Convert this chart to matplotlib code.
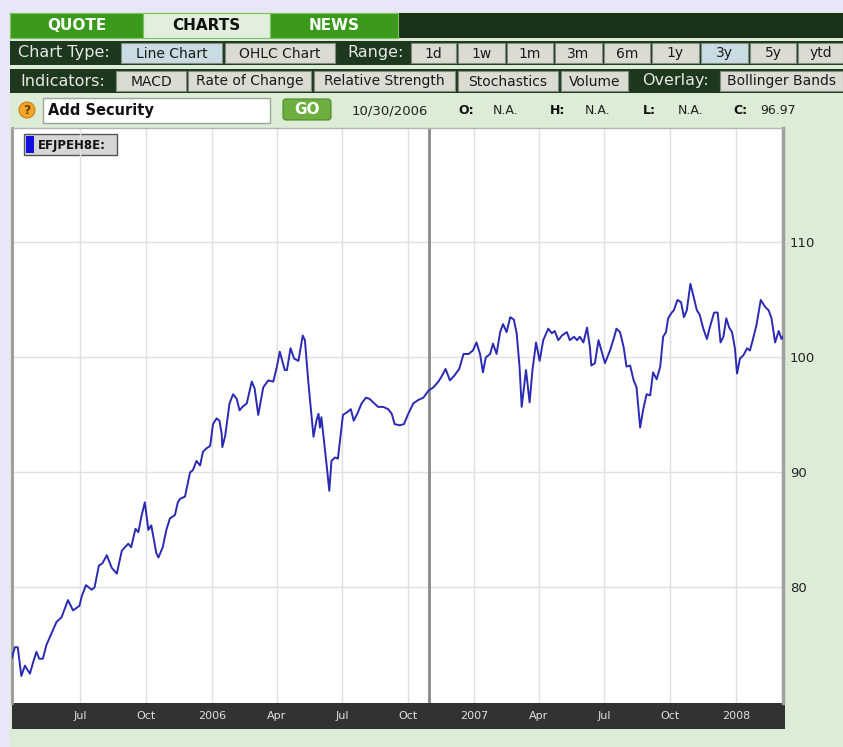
import numpy as np
import matplotlib.pyplot as plt
from matplotlib.patches import Rectangle, Circle, FancyBboxPatch

# price series, x given as days counted from 2005-07-01
days = [-95, -91, -87, -82, -77, -70, -66, -61, -57, -52, -47, -38, -33, -26, -17, -10, -1, 2, 8, 16,
        20, 26, 31, 37, 44, 51, 58, 67, 71, 77, 81, 85, 90, 95, 99, 106, 109, 115, 120, 125, 132, 136,
        139, 146, 153, 157, 162, 167, 171, 176, 181, 185, 190, 194, 197, 198, 202, 208, 213, 218, 222, 226,
        232, 239, 243, 248, 255, 262, 269, 274, 278, 285, 288, 293, 298, 304, 310, 313, 318, 322, 325, 329,
        332, 334, 336, 343, 347, 350, 355, 359,
        366, 371, 377, 381, 386, 392, 398, 403, 408, 415, 422, 429, 434, 438, 445, 451, 457, 464, 471, 478,
        485, 492, 499, 503, 509, 515, 521, 528, 534, 541, 547, 552, 557, 561, 565, 571, 575, 580, 585,
        589, 594, 599, 604, 608, 612, 615, 621, 626, 630, 635, 640, 645, 652, 657, 661, 666, 671, 678, 682,
        688, 692, 696, 701, 706, 710, 712, 717, 722, 726, 731, 738, 744, 747, 752, 757, 761, 766, 771, 775,
        780, 784, 789, 794, 798, 803, 808,
        812, 816, 819, 824, 827, 832, 837, 841, 845, 850, 854, 859, 863, 868, 873, 877, 883, 888, 892, 896,
        900, 904, 908, 912, 915, 919, 924, 929, 933, 938, 942, 948, 954, 959, 963, 968, 973, 977, 979]
price = [73.9, 74.8, 74.8, 72.3, 73.2, 72.5, 73.4, 74.4, 73.8, 73.8, 75.0, 76.3, 77.0, 77.4, 78.9, 78.0,
         78.4, 79.2, 80.2, 79.8, 80.0, 81.9, 82.1, 82.8, 81.7, 81.2, 83.2, 83.8, 83.5, 85.1, 84.8, 86.1,
         87.4, 85.0, 85.4, 83.0, 82.6, 83.5, 85.0, 86.0, 86.3, 87.4,
         87.7, 87.9, 90.0, 90.2, 91.0, 90.6, 91.8, 92.1, 92.3, 94.2, 94.7, 94.5, 93.4, 92.2, 93.2, 96.0,
         96.8, 96.4, 95.4, 95.7, 96.0, 97.9, 97.3, 95.0, 97.4, 98.0, 97.9, 99.2, 100.5, 98.9, 98.9, 100.8,
         99.9, 99.7, 101.9, 101.5, 97.7, 95.1, 93.1, 94.5, 95.1, 93.9, 94.8, 90.8, 88.4, 91.0, 91.3, 91.2,
         95.0, 95.2, 95.5, 94.5, 95.1, 96.0, 96.5, 96.4, 96.1, 95.7, 95.7, 95.5, 95.1, 94.2, 94.1, 94.2,
         95.1, 96.0, 96.3, 96.5, 97.1, 97.4, 97.9, 98.3, 99.0, 98.0, 98.4, 99.0, 100.3, 100.3, 100.6, 101.3,
         100.3, 98.7, 100.0, 100.3, 101.2, 100.3, 102.2,
         102.9, 102.2, 103.5, 103.3, 102.1, 99.2, 95.7, 98.9, 96.1, 98.9, 101.3, 99.7, 101.5, 102.5, 102.1,
         102.3, 101.5, 101.9, 102.2, 101.5, 101.8, 101.5, 101.8, 101.3, 102.6, 100.9, 99.3, 99.5, 101.5,
         100.6, 99.5, 100.6, 101.8, 102.5, 102.2, 100.9, 99.2, 99.3, 98.0, 97.4, 93.9, 95.4, 96.8, 96.7,
         98.7, 98.1, 99.2,
         101.8, 102.2, 103.4, 103.9, 104.1, 105.0, 104.8, 103.5, 104.1, 106.4, 105.4, 104.1, 103.7, 102.5,
         101.6, 102.6, 103.9, 103.9, 101.3, 101.8, 103.4, 102.6, 102.2, 100.8, 98.6, 99.9, 100.2, 100.8,
         100.6, 101.8, 102.8, 105.0, 104.4, 104.1, 103.4, 101.3, 102.3, 101.6, 101.8]

start_date = '2005-07-01'
first_day, last_day = -95, 979
tick_dates = ['2005-07-01', '2005-10-01', '2006-01-01', '2006-04-01', '2006-07-01', '2006-10-01',
              '2007-01-01', '2007-04-01', '2007-07-01', '2007-10-01', '2008-01-01']
tick_labels = ['Jul', 'Oct', '2006', 'Apr', 'Jul', 'Oct', '2007', 'Apr', 'Jul', 'Oct', '2008']
y_ticks = [80, 90, 100, 110]
cursor_date = '2006-10-30'
security = 'EFJPEH8E:'

tabs = ['QUOTE', 'CHARTS', 'NEWS']
chart_types = ['Line Chart', 'OHLC Chart']
ranges = ['1d', '1w', '1m', '3m', '6m', '1y', '3y', '5y', 'ytd']
indicators = ['MACD', 'Rate of Change', 'Relative Strength', 'Stochastics', 'Volume']
overlays = ['Bollinger Bands']
quote_keys = ['O:', 'H:', 'L:', 'C:']
quote_vals = ['N.A.', 'N.A.', 'N.A.', '96.97']

# layout in screen pixels
W, H = 843, 747
tab_x = [(10, 143), (143, 270), (270, 398)]
type_x = [(121, 222), (225, 335)]
range_x = [(411, 456), (458, 505), (507, 553), (555, 602), (604, 650), (652, 699), (701, 748),
           (750, 796), (798, 843)]
ind_x = [(116, 186), (188, 311), (314, 455), (458, 558), (561, 628)]
over_x = [(720, 843)]
quote_key_x = [458, 550, 643, 733]
quote_val_x = [493, 585, 678, 760]

DARK = '#1d381c'
BTN = '#dcdbd3'
SEL = '#c9dce4'

fig = plt.figure(figsize=(W / 100, H / 100), dpi=100)
fig.patch.set_facecolor('#e7e7f9')
bg = fig.add_axes([0, 0, 1, 1])
bg.set_xlim(0, W)
bg.set_ylim(H, 0)
bg.axis('off')


def box(x0, y0, x1, y1, fc, ec='none', lw=0, target=None):
    p = Rectangle((x0, y0), x1 - x0, y1 - y0, fc=fc, ec=ec, lw=lw,
                  transform=bg.transData, clip_on=False)
    (target or bg).add_artist(p)


def button(x0, x1, y0, y1, label, fc):
    box(x0, y0, x1, y1, fc, ec='#7f8f7f', lw=0.8)
    bg.text((x0 + x1) / 2, (y0 + y1) / 2 + 0.5, label, ha='center', va='center',
            fontsize=10, color='#1a1a1a')


box(10, 12, W, H, '#dcecd7')

# tab bar
box(10, 13, W, 38, '#1a3318')
for (x0, x1), name in zip(tab_x, tabs):
    sel = name == 'CHARTS'
    box(x0, 13, x1, 38, '#e1efdc' if sel else '#3b9a1b', ec='#7fbf60', lw=0.8)
    bg.text((x0 + x1) / 2, 26, name, ha='center', va='center', fontsize=11, fontweight='bold',
            color='#111111' if sel else 'white')

# chart type / range row
box(10, 41, W, 65, DARK)
bg.text(18, 53, 'Chart Type:', ha='left', va='center', fontsize=11.5, color='#e8e8e8')
for (x0, x1), name in zip(type_x, chart_types):
    button(x0, x1, 43, 63, name, SEL if name == 'Line Chart' else BTN)
bg.text(347, 53, 'Range:', ha='left', va='center', fontsize=11.5, color='#e8e8e8')
for (x0, x1), name in zip(range_x, ranges):
    button(x0, x1, 43, 63, name, SEL if name == '3y' else BTN)

# indicators row
box(10, 69, W, 93, DARK)
bg.text(20, 81, 'Indicators:', ha='left', va='center', fontsize=11.5, color='#e8e8e8')
for (x0, x1), name in zip(ind_x, indicators):
    button(x0, x1, 71, 91, name, BTN)
bg.text(642, 81, 'Overlay:', ha='left', va='center', fontsize=11.5, color='#e8e8e8')
for (x0, x1), name in zip(over_x, overlays):
    button(x0, x1, 71, 91, name, BTN)

# security row
bg.add_patch(Circle((27, 110), 8, fc='#f2a623', ec='#c88214', lw=0.8))
bg.text(27, 110.5, '?', ha='center', va='center', fontsize=9, fontweight='bold', color='#6a4200')
box(43, 98, 270, 123, 'white', ec='#9aa79a', lw=1)
bg.text(48, 111, 'Add Security', ha='left', va='center', fontsize=10.5, fontweight='bold',
        color='#111111')
bg.add_patch(FancyBboxPatch((283, 99), 48, 21, boxstyle='round,pad=0,rounding_size=3',
                            fc='#6daf3e', ec='#4c8a2a', lw=0.8))
bg.text(307, 109, 'GO', ha='center', va='center', fontsize=11, fontweight='bold', color='white')
bg.text(352, 111, '10/30/2006', ha='left', va='center', fontsize=9.5, color='#222222')
for x, k in zip(quote_key_x, quote_keys):
    bg.text(x, 111, k, ha='left', va='center', fontsize=9, fontweight='bold', color='#111111')
for x, v in zip(quote_val_x, quote_vals):
    bg.text(x, 111, v, ha='left', va='center', fontsize=9, color='#222222')

# dark date strip under the plot
box(12, 703, 785, 729, '#323232')

# chart
x0, y0, x1, y1 = 12, 128, 783, 703
ax = fig.add_axes([x0 / W, 1 - y1 / H, (x1 - x0) / W, (y1 - y0) / H])
ax.set_facecolor('white')
base = np.datetime64(start_date)
dates = base + np.array(days).astype('timedelta64[D]')
ax.plot(dates, price, color='#2a2ab4', lw=1.4, zorder=3)
ax.axvline(np.datetime64(cursor_date), color='#8a8a8a', lw=2, zorder=2)

ax.set_xlim(base + np.timedelta64(first_day, 'D'), base + np.timedelta64(last_day, 'D'))
ax.set_ylim(69.95, 119.95)
ax.set_xticks(np.array(tick_dates, dtype='datetime64[D]'))
ax.set_xticklabels(tick_labels)
ax.set_yticks(y_ticks)
ax.set_yticklabels([str(v) for v in y_ticks])
ax.yaxis.tick_right()
ax.grid(True, color='#e0e0e0', lw=1, zorder=0)
ax.tick_params(axis='x', length=0, pad=6, labelsize=8, labelcolor='#e0e0e0')
ax.tick_params(axis='y', length=0, pad=5, labelsize=9.5, labelcolor='#222222')
for side, col, w in [('left', '#9a9a9a', 2), ('right', '#a0a0a0', 2.5),
                     ('top', '#b4b4b4', 1), ('bottom', '#323232', 0)]:
    ax.spines[side].set_color(col)
    ax.spines[side].set_linewidth(w)

# legend chip
box(24, 134, 117, 155, '#d6d6d6', ec='#555555', lw=1, target=ax)
box(26, 136, 34, 153, '#1010e0', target=ax)
ax.text(38, 145, security, ha='left', va='center', fontsize=8.5, fontweight='bold',
        color='#111111', transform=bg.transData)

fig.savefig('out.png', dpi=100, facecolor=fig.get_facecolor())
